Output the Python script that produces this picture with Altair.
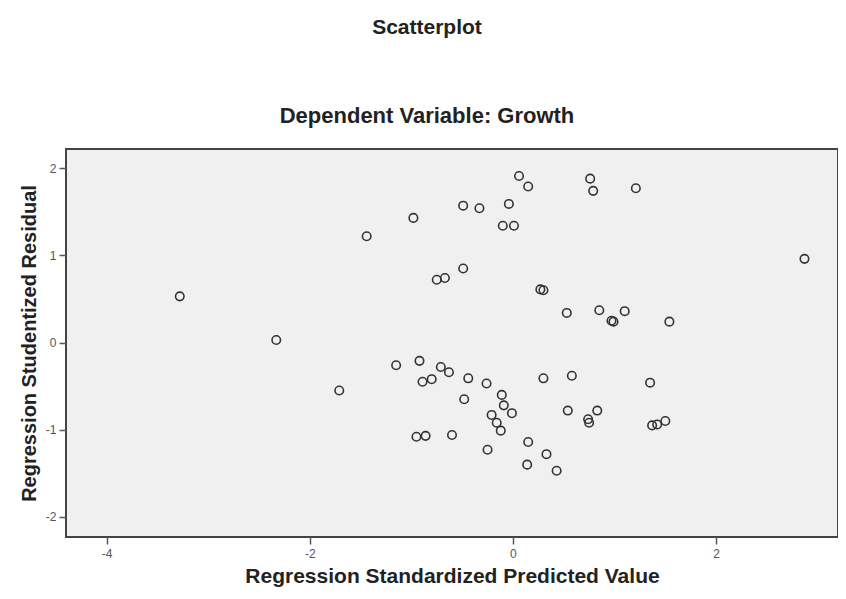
import altair as alt
import pandas as pd

pred = [-3.28, -2.33, 0.06, 0.15, -0.49, -0.33, -0.04, -0.98, -1.44, -0.10, 0.01,
        -0.49, -0.75, -0.67, 0.27, 0.30, 0.53, -1.71, -1.15, -0.92, -0.89, -0.80,
        -0.71, -0.63, -0.44, -0.26, -0.48, -0.11, -0.09, -0.01, -0.21, -0.16, -0.12,
        0.30, 0.58, 0.54, -0.95, -0.86, -0.60, -0.25, 0.15, 0.33, 0.14, 0.43,
        0.76, 0.79, 1.21, 2.87, 0.85, 0.97, 0.99, 1.10, 1.54, 1.35, 0.83, 0.74,
        0.75, 1.37, 1.42, 1.50]
resid = [0.53, 0.03, 1.91, 1.79, 1.57, 1.54, 1.59, 1.43, 1.22, 1.34, 1.34,
         0.85, 0.72, 0.74, 0.61, 0.60, 0.34, -0.55, -0.26, -0.21, -0.45, -0.42,
         -0.28, -0.34, -0.41, -0.47, -0.65, -0.60, -0.72, -0.81, -0.83, -0.92, -1.01,
         -0.41, -0.38, -0.78, -1.08, -1.07, -1.06, -1.23, -1.14, -1.28, -1.40, -1.47,
         1.88, 1.74, 1.77, 0.96, 0.37, 0.25, 0.24, 0.36, 0.24, -0.46, -0.78, -0.88,
         -0.92, -0.95, -0.94, -0.90]

x_ticks = [-4, -2, 0, 2]
y_ticks = [-2, -1, 0, 1, 2]

df = pd.DataFrame({"pred": pred, "resid": resid})

FONT = "Liberation Sans"

chart = alt.Chart(df).mark_point(
    shape="circle", filled=False, size=72, stroke="#333333", strokeWidth=1.6, opacity=1
).encode(
    x=alt.X("pred:Q",
            scale=alt.Scale(domain=[-4.40, 3.20], nice=False, zero=False),
            axis=alt.Axis(title="Regression Standardized Predicted Value",
                          values=x_ticks, labelExpr="'' + datum.value",
                          grid=False, domain=False, tickSize=7, tickColor="#555555",
                          tickWidth=1.5,
                          labelFontSize=12, labelColor="#555555", labelFont=FONT,
                          titleFont=FONT, titleFontSize=21, titleFontWeight="bold",
                          titleColor="#222222", titlePadding=6, labelPadding=4)),
    y=alt.Y("resid:Q",
            scale=alt.Scale(domain=[-2.23, 2.22], nice=False, zero=False),
            axis=alt.Axis(title="Regression Studentized Residual",
                          values=y_ticks, labelExpr="'' + datum.value",
                          grid=False, domain=False, tickSize=7, tickColor="#555555",
                          tickWidth=1.5,
                          labelFontSize=12, labelColor="#555555", labelFont=FONT,
                          titleFont=FONT, titleFontSize=20, titleFontWeight="bold",
                          titleColor="#222222", titlePadding=6, labelPadding=3)),
).properties(
    width=772,
    height=388,
    background="white",
    title=alt.TitleParams(
        text="Scatterplot",
        subtitle="Dependent Variable: Growth",
        font=FONT, fontSize=21, fontWeight="bold", color="#222222",
        subtitleFont=FONT, subtitleFontSize=22, subtitleFontWeight="bold",
        subtitleColor="#222222", subtitlePadding=68,
        anchor="middle", dx=-25, offset=22,
    ),
    autosize=alt.AutoSizeParams(type="none"),
    padding={"left": 58, "top": 141, "right": 0, "bottom": 53},
).configure_view(
    fill="#f0f0f0", stroke="#444444", strokeWidth=2
)

chart.save("out.html", embed_options={"renderer": "svg", "actions": False})
